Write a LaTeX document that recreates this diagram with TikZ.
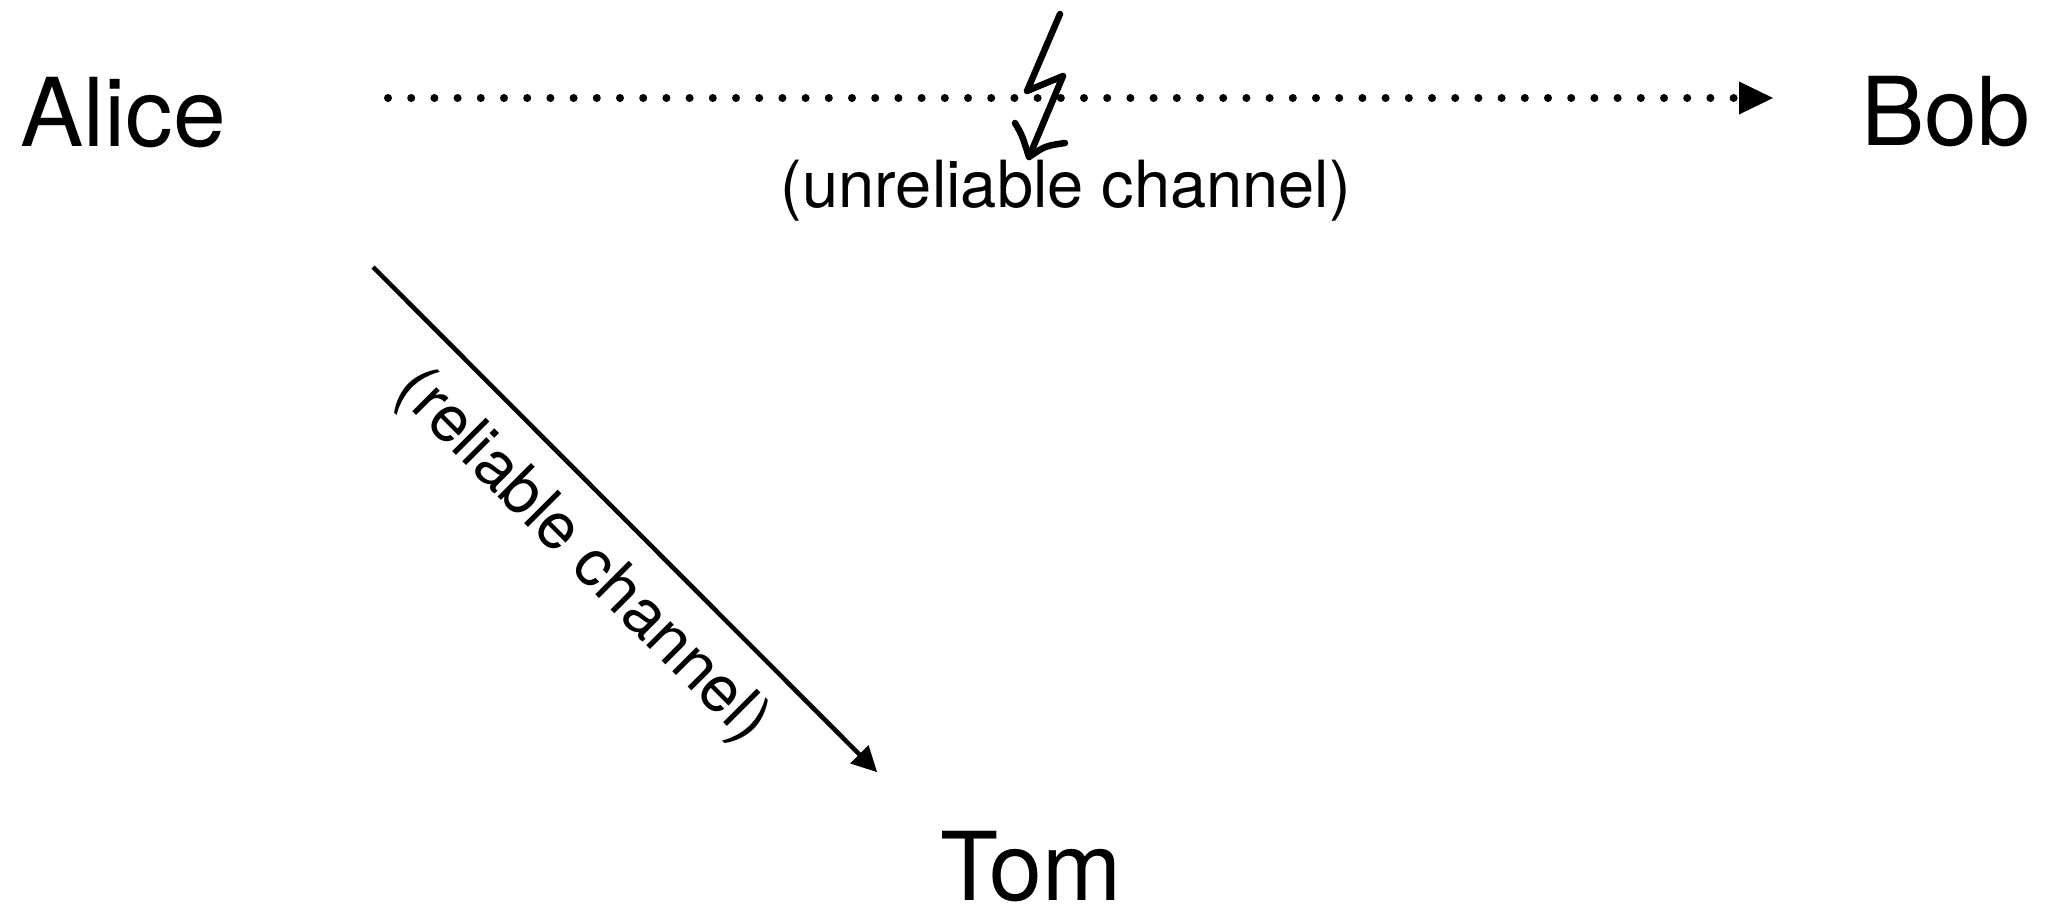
\documentclass[tikz,border=0pt]{standalone}
\usepackage{fontspec}
\setmainfont{TeX Gyre Heros}
\usetikzlibrary{arrows.meta}
\tikzset{
  person/.style={inner sep=0pt, anchor=base west, font=\fontsize{95}{100}\selectfont},
  lbl/.style={inner sep=0pt, anchor=base, font=\fontsize{65}{70}\selectfont},
  dotline/.style={line width=8pt, line cap=round, dash pattern=on 0pt off 23.2pt,
    -{Triangle[length=34pt,width=33pt,line width=0pt]}},
  solidarrow/.style={line width=4.5pt, -{Triangle[length=25pt,width=26pt,line width=0pt]}},
  bolt/.style={line width=6.5pt, line cap=round, line join=round}
}
\begin{document}
\begin{tikzpicture}[x=1pt,y=-1pt]
\useasboundingbox (0,0) rectangle (2053,908);
\node[person] (alice) at (20,146) {Alice};
\node[person] (bob) at (1861,145) {Bob};
\node[person] (tom) at (940,900) {Tom};
\coordinate (u1) at (388,98);
\coordinate (u2) at (1773,98);
\coordinate (r1) at (373,267);
\coordinate (r2) at (877,772);
\draw[dotline] (u1) -- (u2);
\node[lbl] (unrel) at (1066,207) {(unreliable channel)};
\draw[solidarrow] (r1) -- (r2);
\node[lbl, rotate=-45] (rel) at (570,569) {(reliable channel)};
% lightning bolt
\draw[bolt] (1060,14) -- (1027,91) -- (1063,76) -- (1029,157);
\draw[bolt] (1015,123) .. controls (1022,135) .. (1029,157) .. controls (1045,146) .. (1065,143);
\end{tikzpicture}
\end{document}
